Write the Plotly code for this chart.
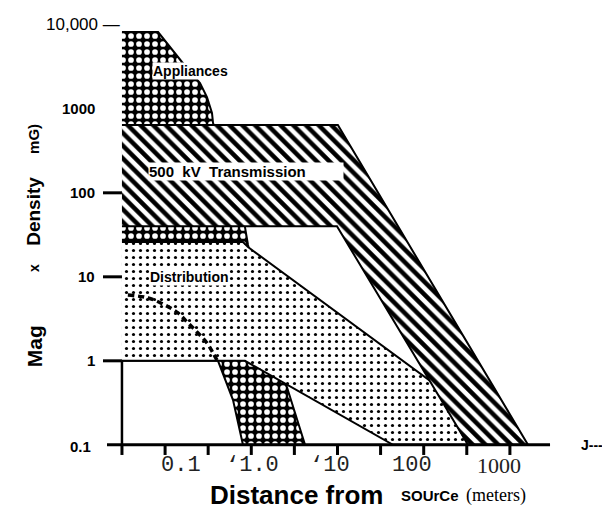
import numpy as np
import plotly.graph_objects as go

# ---------------- data (distance in metres, field in mG) ----------------
Y_AXIS_X = 0.0316                  # distance where the field axis sits
X_AXIS_EXTENT = [0.0212, 2920]     # extent of drawn distance axis
Y_FLOOR = 0.1

APPLIANCE_DIST = [0.0316, 0.083, 0.157, 0.254, 0.306, 0.350, 0.360, 0.647,
                  0.845, 0.916, 1.65, 2.59, 4.20, 0.80, 0.614, 0.411, 0.0316]
APPLIANCE_FIELD = [8200, 8200, 3610, 2030, 1380, 891, 677, 142,
                   39.1, 23.9, 1.77, 0.488, 0.1, 0.1, 0.341, 1.0, 1.0]

TRANS_DIST = [0.0316, 10.1, 1620, 327, 9.86, 0.0316]
TRANS_FIELD = [640, 640, 0.1, 0.1, 40, 40]

DISTRIB_DIST = [0.0316, 0.80, 0.916, 128, 327, 44, 0.845, 0.0316]
DISTRIB_FIELD = [26, 26, 22.6, 0.545, 0.1, 0.1, 1.0, 1.0]

CURVE_DIST = [0.037, 0.0634, 0.0998, 0.141, 0.185, 0.241, 0.306, 0.360, 0.40]
CURVE_FIELD = [6.07, 5.60, 4.61, 3.71, 2.82, 2.14, 1.63, 1.24, 1.02]

X_TICKS = [0.0316, 0.1, 0.316, 1, 3.16, 10, 31.6, 100, 316, 1000]
X_TICK_LABEL_VALUES = [0.1, 1, 10, 100, 1000]
X_TICK_LABELS = ["0.1", "\u20181.0", "\u201810", "100", "1000"]
X_TICK_LABEL_SHIFT = [16, 1, -8, -12, -11]

Y_TICKS = [1, 10, 100]
Y_TICK_LABEL_VALUES = [0.1, 1, 10, 100, 1000]
Y_TICK_LABELS = ["0.1", "1", "10", "100", "1000"]

SANS = "Liberation Sans, Arial, Helvetica, sans-serif"
NARROW = "Liberation Sans Narrow, Arial Narrow, Liberation Sans, sans-serif"
MONO = "Liberation Mono, Courier New, monospace"
SERIF = "Liberation Serif, Times New Roman, serif"

fig = go.Figure()

# Appliances (black with white dots)
fig.add_trace(go.Scatter(
    x=APPLIANCE_DIST, y=APPLIANCE_FIELD, mode="lines", fill="toself",
    fillcolor="black",
    fillpattern=dict(shape=".", bgcolor="black", fgcolor="white", fgopacity=1,
                     fillmode="replace", size=8, solidity=0.4),
    line=dict(color="black", width=2), hoverinfo="skip"))

# Distribution (sparse dots)
fig.add_trace(go.Scatter(
    x=DISTRIB_DIST, y=DISTRIB_FIELD, mode="lines", fill="toself",
    fillcolor="white",
    fillpattern=dict(shape=".", bgcolor="white", fgcolor="black", fgopacity=1,
                     fillmode="replace", size=7, solidity=0.16),
    line=dict(color="black", width=2), hoverinfo="skip"))

# 500 kV transmission (diagonal hatch)
fig.add_trace(go.Scatter(
    x=TRANS_DIST, y=TRANS_FIELD, mode="lines", fill="toself",
    fillcolor="white",
    fillpattern=dict(shape="\\", bgcolor="white", fgcolor="black", fgopacity=1,
                     fillmode="replace", size=9, solidity=0.5),
    line=dict(color="black", width=2), hoverinfo="skip"))

# dashed curve inside the distribution band
fig.add_trace(go.Scatter(
    x=CURVE_DIST, y=CURVE_FIELD, mode="lines",
    line=dict(color="black", width=3.5, dash="6px,4px", shape="spline"),
    hoverinfo="skip"))

# axis lines
fig.add_trace(go.Scatter(x=X_AXIS_EXTENT, y=[Y_FLOOR, Y_FLOOR], mode="lines",
                         line=dict(color="black", width=3), hoverinfo="skip"))
fig.add_trace(go.Scatter(x=[Y_AXIS_X, Y_AXIS_X], y=[Y_FLOOR, 1.0], mode="lines",
                         line=dict(color="black", width=2.5), hoverinfo="skip"))

# x tick marks (below axis)
tick_len_y = 0.0757
tx, ty = [], []
for t in X_TICKS:
    tx += [t, t, None]
    ty += [Y_FLOOR, tick_len_y, None]
fig.add_trace(go.Scatter(x=tx, y=ty, mode="lines",
                         line=dict(color="black", width=3), hoverinfo="skip"))

# y tick marks (left of field axis)
tick_left_x = 0.01905
yx, yy = [], []
for t in Y_TICKS:
    yx += [tick_left_x, Y_AXIS_X, None]
    yy += [t, t, None]
fig.add_trace(go.Scatter(x=yx, y=yy, mode="lines",
                         line=dict(color="black", width=3), hoverinfo="skip"))

ann = []
# y tick labels
lab_x = np.log10(Y_AXIS_X) - 25 / 86.2
for v, s in zip(Y_TICK_LABEL_VALUES, Y_TICK_LABELS):
    ann.append(dict(x=lab_x, y=np.log10(v), xref="x", yref="y", text=s,
                    showarrow=False, xanchor="right", yanchor="middle",
                    xshift=-4 if v == 0.1 else 0, yshift=-2 if v == 0.1 else 0,
                    font=dict(family=NARROW, size=15, color="black", weight="bold")))
ann.append(dict(x=np.log10(Y_AXIS_X), y=4.0, xref="x", yref="y", text="10,000 \u2014",
                showarrow=False, xanchor="right", yanchor="middle",
                font=dict(family=SANS, size=17, color="black")))

# x tick labels
for v, s, sh in zip(X_TICK_LABEL_VALUES, X_TICK_LABELS, X_TICK_LABEL_SHIFT):
    fam = SERIF if s == "1000" else MONO
    ann.append(dict(x=np.log10(v), y=-0.018, xref="x", yref="paper", text=s,
                    showarrow=False, xanchor="center", yanchor="middle", xshift=sh,
                    font=dict(family=fam, size=22, color="#222")))

# region labels
ann.append(dict(x=np.log10(0.1995), y=3.456, xref="x", yref="y", text="Appliances",
                showarrow=False, bgcolor="white", borderpad=0,
                font=dict(family=SANS, size=14, color="black", weight="bold")))
ann.append(dict(x=np.log10(0.0634), y=2.254, xref="x", yref="y", text="500  kV  Transmission",
                showarrow=False, xanchor="left", align="left", width=194, height=17,
                bgcolor="white", borderpad=0,
                font=dict(family=SANS, size=15, color="black", weight="bold")))
ann.append(dict(x=-0.717, y=0.992, xref="x", yref="y", text="Distribution",
                showarrow=False, bgcolor="white", borderpad=0,
                font=dict(family=SANS, size=14, color="black", weight="bold")))

# y axis title pieces (rotated)
for txt, yp, sz, wt in [("Mag", 0.253, 21, "bold"), ("x", 0.430, 14, "bold"),
                        ("Density", 0.557, 19, "bold"), ("mG)", 0.722, 15, "bold")]:
    ann.append(dict(x=-0.1326, y=yp, xref="paper", yref="paper", text=txt, textangle=-90,
                    showarrow=False, xanchor="center", yanchor="middle",
                    font=dict(family=SANS, size=sz, color="black", weight=wt)))

# x axis title pieces
ann.append(dict(x=0.437, y=-0.083, xref="paper", yref="paper", text="Distance from",
                showarrow=False, xanchor="center", yanchor="middle",
                font=dict(family=SANS, size=26, color="black", weight="bold")))
ann.append(dict(x=0.728, y=-0.084, xref="paper", yref="paper", text="SOUrCe",
                showarrow=False, xanchor="center", yanchor="middle",
                font=dict(family=SANS, size=15, color="black", weight="bold")))
ann.append(dict(x=0.872, y=-0.084, xref="paper", yref="paper", text="(meters)",
                showarrow=False, xanchor="center", yanchor="middle",
                font=dict(family=SERIF, size=18, color="black")))
ann.append(dict(x=1.081, y=0.029, xref="paper", yref="paper", text="J---",
                showarrow=False, xanchor="center", yanchor="middle",
                font=dict(family=SANS, size=14, color="black", weight="bold")))

# the page body adds an 8 px offset, so the figure is 8 px smaller each way
fig.update_layout(
    width=602, height=517,
    margin=dict(l=87, r=55, t=8, b=67),
    paper_bgcolor="white", plot_bgcolor="white",
    showlegend=False,
    xaxis=dict(type="log", range=[-1.813, 3.523], visible=False, fixedrange=True),
    yaxis=dict(type="log", range=[-1.157, 4.105], visible=False, fixedrange=True),
    annotations=ann,
)

fig.write_html("out.html")
